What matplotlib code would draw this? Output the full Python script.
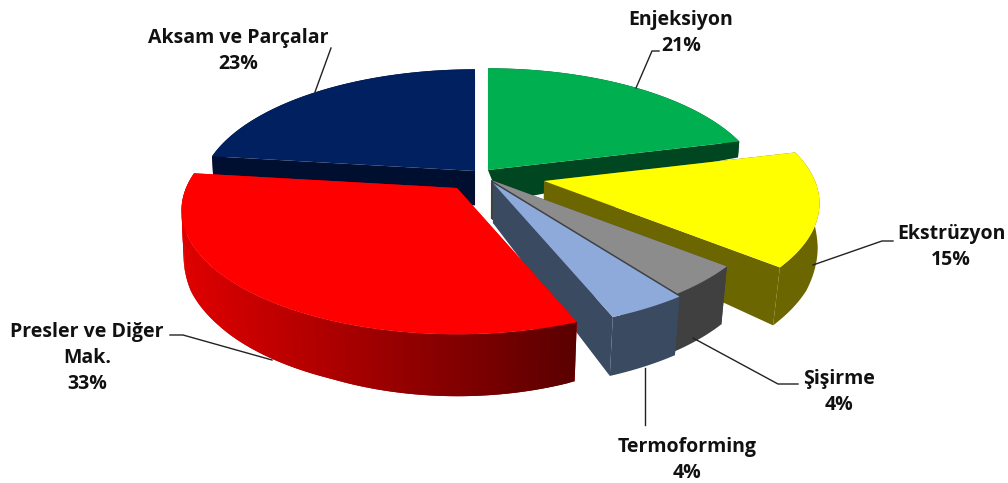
import numpy as np
import matplotlib
matplotlib.use("Agg")
import matplotlib.pyplot as plt
from matplotlib.colors import to_rgb

plt.rcParams['font.family'] = ['Open Sans', 'DejaVu Sans']

# slices clockwise from 12 o'clock
names = ["Enjeksiyon", "Ekstrüzyon", "Şişirme", "Termoforming", "Presler ve Diğer\nMak.", "Aksam ve Parçalar"]
values = [21, 15, 4, 4, 33, 23]

top_colors = ["#00b050", "#ffff00", "#8c8c8c", "#8eaadb", "#ff0000", "#002060"]
wall_colors = ["#004620", "#6b6600", "#404040", "#3a4a60", "#e00000", "#000f30"]
wall_dark = [None, None, None, None, "#5a0000", None]

# how far each slice is pulled out of the pie, in pixels
offsets = [(6, 0), (62, 11), (9, 10), (11, 13), (-25, 18), (-7, 1)]
# green wall is hidden near the centre, trim it so it does not stick out
inner_cut = [0.05, 0, 0, 0, 0, 0]
draw_order = [5, 0, 1, 2, 3, 4]

CX, CY = 482, 170
RX, RY, K = 271, 120, 0.18


def top_xy(theta, off):
    u, v = np.sin(theta), np.cos(theta)
    s = 1 / (1 + K * v)
    return CX + off[0] + RX * u * s, CY + off[1] - RY * v * s


def bottom(x, y):
    # side walls get taller towards the viewer and lean in a little
    h = np.interp(y, [142, 170, 183, 205, 235, 268, 320, 335], [16, 34, 40, 49, 56, 58, 59, 62])
    lean = np.interp(y, [200, 235, 268], [0.995, 0.987, 0.977])
    return CX + (x - CX) * lean, y + h


fig = plt.figure(figsize=(10.08, 4.83), dpi=100)
ax = fig.add_axes([0, 0, 1, 1])
ax.set_xlim(0, 1008)
ax.set_ylim(483, 0)
ax.axis("off")

edges = np.radians(np.cumsum([0] + values) * 3.6)

for i in draw_order:
    off = offsets[i]
    t = np.linspace(edges[i], edges[i + 1], 120)
    x, y = top_xy(t, off)
    xb, yb = bottom(x, y)
    ax_, ay_ = CX + off[0], CY + off[1]
    axb, ayb = bottom(ax_, ay_)

    # straight walls from the centre out to both rim ends
    for j in [0, -1]:
        cx_b = axb + (xb[j] - axb) * inner_cut[i]
        cy_b = ayb + (yb[j] - ayb) * inner_cut[i]
        ax.fill([ax_, x[j], xb[j], cx_b], [ay_, y[j], yb[j], cy_b],
                color=wall_colors[i], lw=0, zorder=1)

    # rim wall, red one is cut in overlapping pieces to shade it along x
    if wall_dark[i] is None:
        ax.fill(np.r_[x, xb[::-1]], np.r_[y, yb[::-1]], color=wall_colors[i], lw=0, zorder=1)
    else:
        for j in range(len(t) - 1):
            k = min(j + 2, len(t) - 1)
            f = np.clip((x[j] - 180) / (578 - 180), 0, 1)
            c = (1 - f) * np.array(to_rgb(wall_colors[i])) + f * np.array(to_rgb(wall_dark[i]))
            ax.fill([x[j], x[k], xb[k], xb[j]], [y[j], y[k], yb[k], yb[j]],
                    color=tuple(c), lw=0, zorder=1)

    ax.fill(np.r_[ax_, x], np.r_[ay_, y], color=top_colors[i], lw=0, zorder=1)

# leader lines
leaders = [
    ([636, 652, 659], [88, 51, 51]),
    ([813, 882, 893], [265, 241, 241]),
    ([693, 778, 798], [338, 384, 384]),
    ([645, 645], [368, 425]),
    ([272, 183, 170], [360, 335, 335]),
    ([315, 331], [92, 48]),
]
for lx, ly in leaders:
    ax.plot(lx, ly, color="#222222", lw=1, zorder=3)

label_xy = [(681, 33), (951, 247), (839, 392), (687, 460), (87, 358), (238, 51)]
for i in range(len(names)):
    ax.text(label_xy[i][0], label_xy[i][1], names[i] + "\n" + str(values[i]) + "%",
            ha="center", va="center", fontsize=14, fontweight="bold",
            color="#111111", linespacing=1.42, zorder=4)

fig.savefig("out.png", dpi=100)
